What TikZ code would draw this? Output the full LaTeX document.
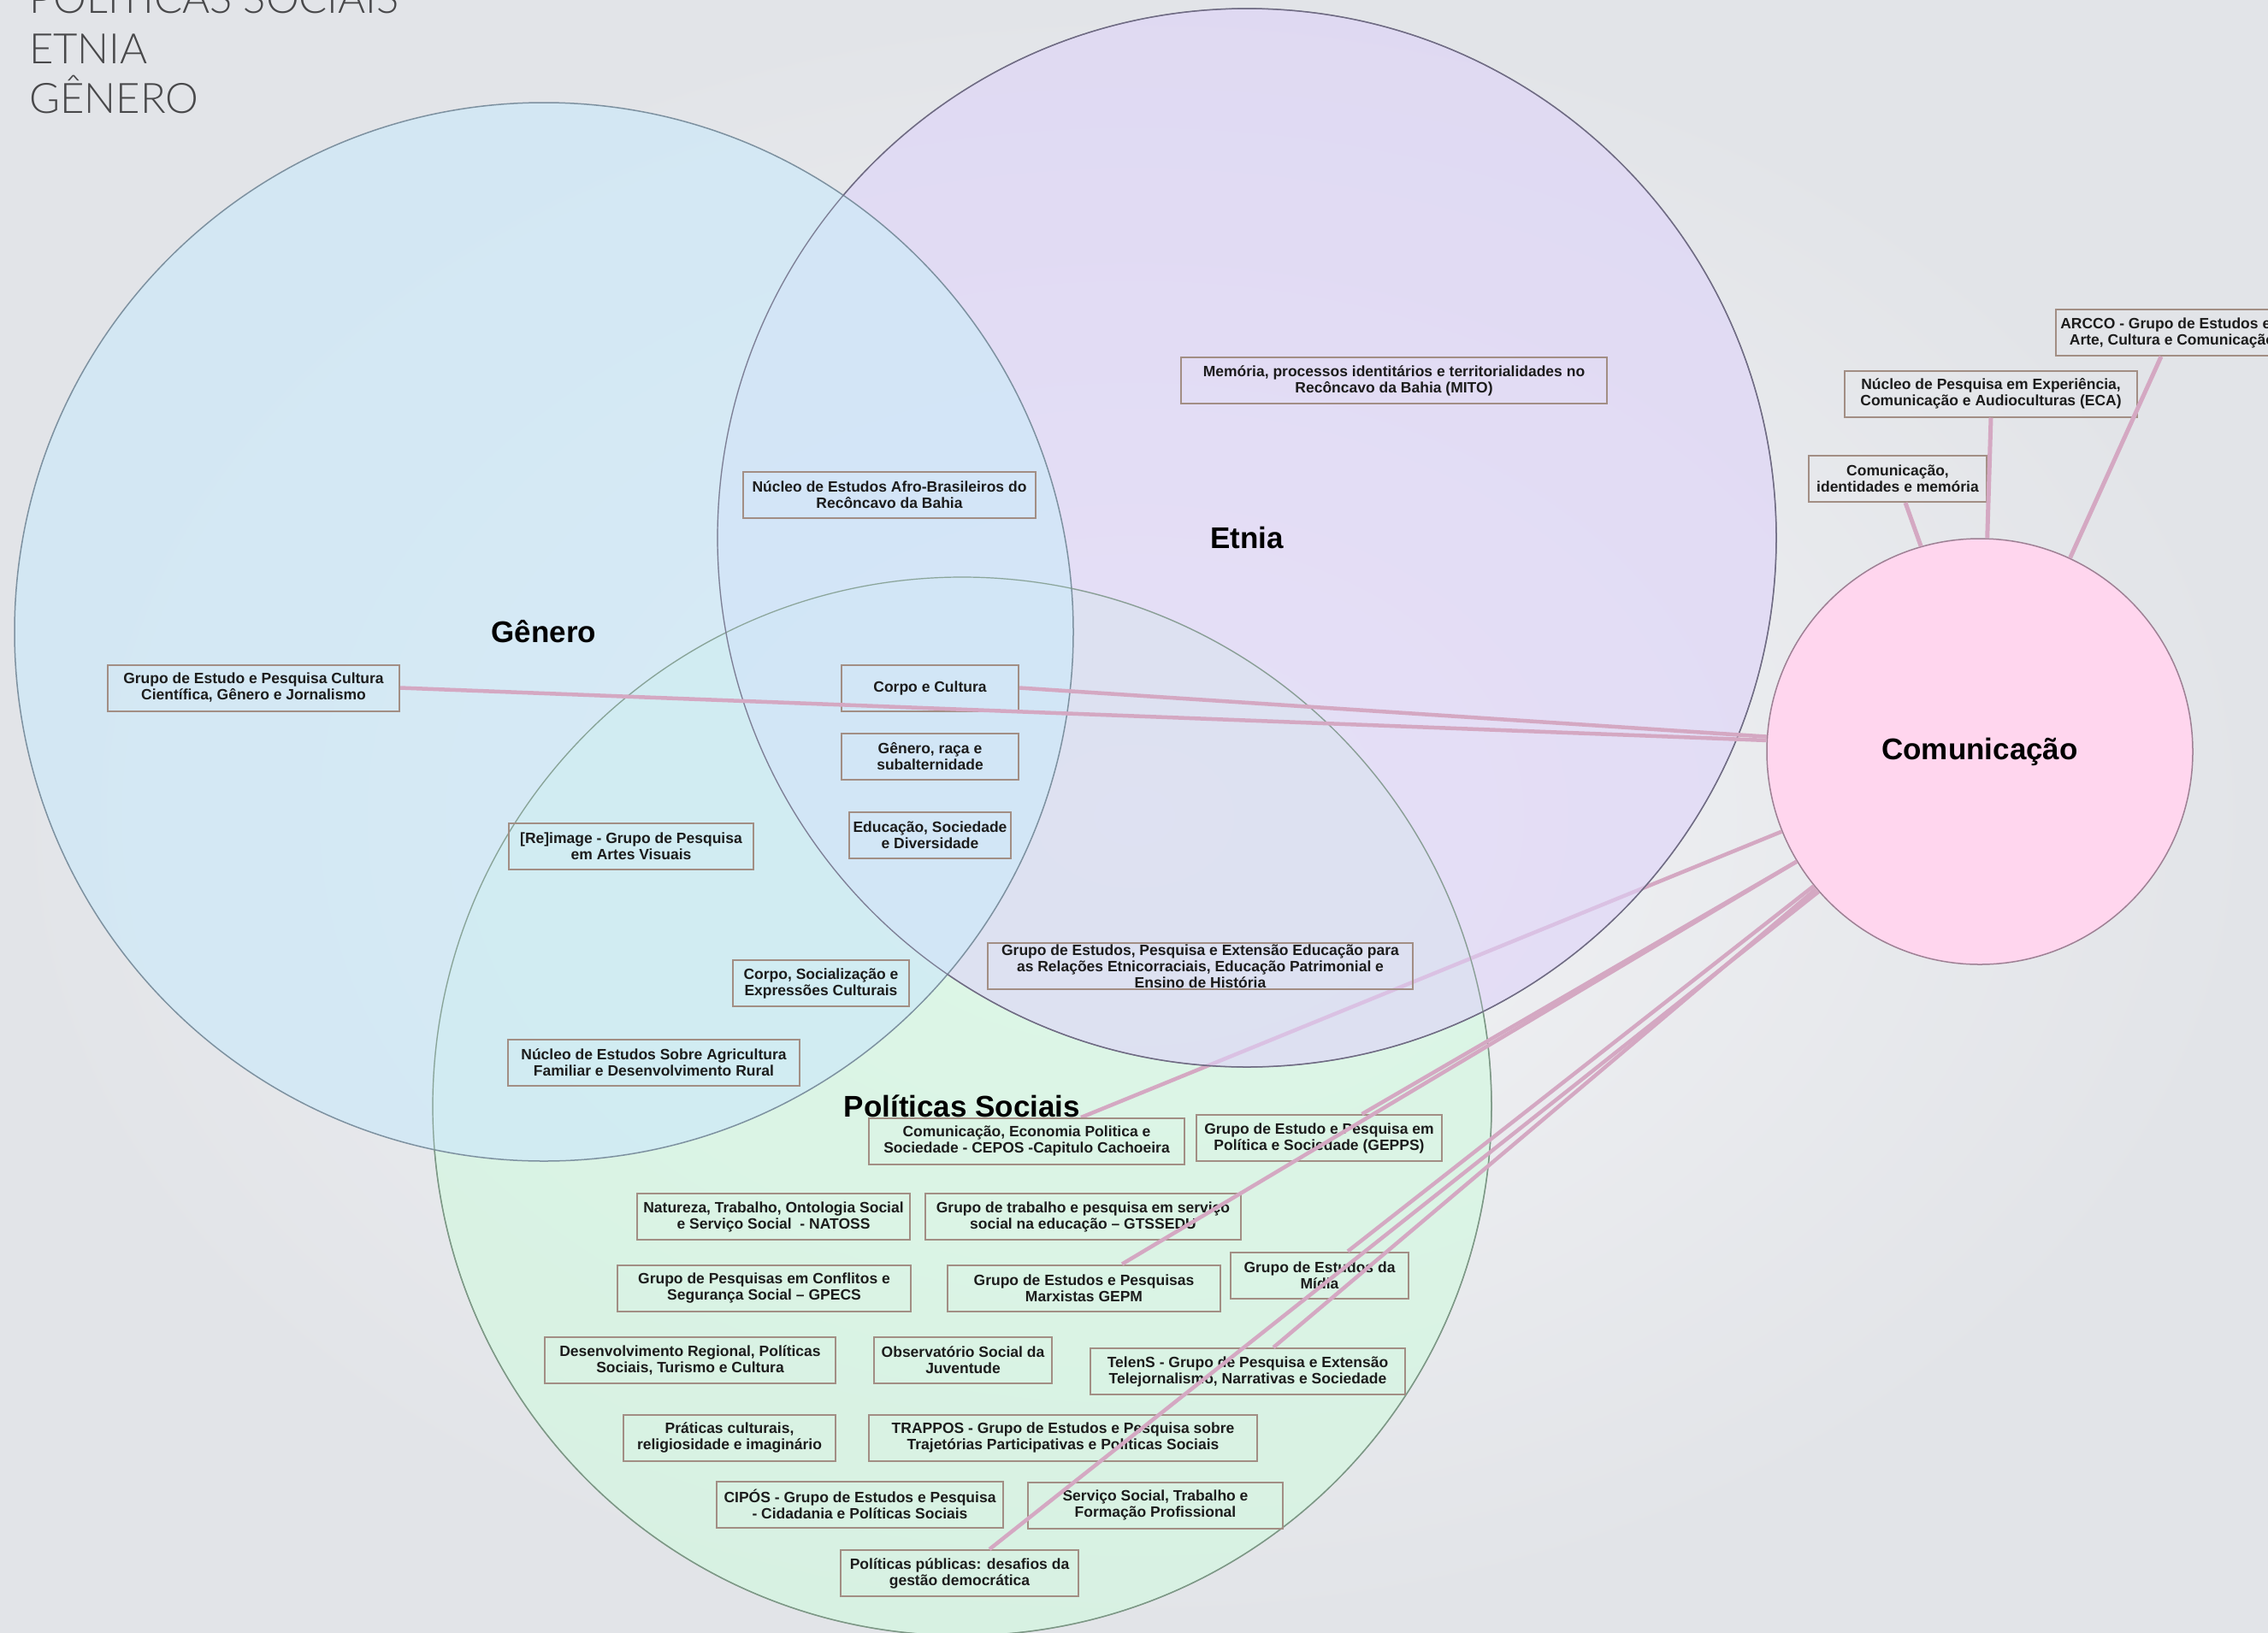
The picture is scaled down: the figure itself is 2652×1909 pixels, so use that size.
\documentclass[tikz,border=0pt]{standalone}
\usepackage{fontspec}
\setmainfont{Liberation Sans}
\newfontfamily\titlefont{Lato}[UprightFont=* Light]

\definecolor{bgin}{RGB}{243,244,246}
\definecolor{bgout}{RGB}{226,228,232}
\definecolor{titlegray}{RGB}{72,72,74}
\definecolor{genfill}{RGB}{206,233,248}
\definecolor{genline}{RGB}{125,145,160}
\definecolor{etnfill}{RGB}{222,211,249}
\definecolor{etnline}{RGB}{112,108,132}
\definecolor{polfill}{RGB}{209,250,223}
\definecolor{polline}{RGB}{125,152,134}
\definecolor{comfill}{RGB}{255,214,238}
\definecolor{comline}{RGB}{158,128,148}
\definecolor{boxline}{RGB}{162,142,132}
\definecolor{boxtext}{RGB}{28,28,28}
\definecolor{linkpink}{RGB}{212,168,194}

\begin{document}
\begin{tikzpicture}[x=1pt, y=-1pt,
    grp/.style={draw=boxline, line width=2pt, align=center, inner sep=0pt,
        minimum height=54pt, text=boxtext, font=\bfseries\fontsize{17.5}{19}\selectfont},
    area/.style={circle, minimum size=1238pt, inner sep=0pt, line width=1.5pt,
        fill opacity=0.6, draw opacity=1, text opacity=1,
        font=\bfseries\fontsize{35}{40}\selectfont},
    rim/.style={line width=1.2pt, draw opacity=0.8},
    link/.style={draw=linkpink, line width=4.5pt},
    heading/.style={anchor=base west, inner sep=0pt, text=titlegray,
        font=\titlefont\fontsize{49}{57}\selectfont}]
    \shade[inner color=bgin, outer color=bgout] (0,0) rectangle (2652,1909);
    \useasboundingbox (0,0) rectangle (2652,1909);

    % title
    \node[heading] (t1) at (34,15) {POLÍTICAS SOCIAIS};
    \node[heading] (t2) at (34,74) {ETNIA};
    \node[heading] (t3) at (34,132) {GÊNERO};

    % areas
    \node[area, draw=polline, fill=polfill] (politicas) at (1125,1294) {Políticas Sociais};
    \node[circle, minimum size=498pt, inner sep=0pt, line width=1.5pt, draw=comline, fill=comfill,
        font=\bfseries\fontsize{35}{40}\selectfont] (comm) at (2315,879) {Comunicação};
    \coordinate (ceposTop) at (1264,1307);
    \draw[link] (ceposTop) -- (comm.202.6);
    \node[area, draw=etnline, fill=etnfill] (etnia) at (1458,629) {Etnia};
    \node[area, draw=genline, fill=genfill, fill opacity=0.72] (genero) at (636,739) {Gênero};
    \draw[rim, polline] (politicas.center) circle[radius=619pt];
    \draw[rim, etnline] (etnia.center) circle[radius=619pt];

    % groups
    \node[grp, minimum width=341pt] (cultsci) at (296.5,804.5) {Grupo de Estudo e Pesquisa Cultura\\Científica, Gênero e Jornalismo};
    \node[grp, minimum width=342pt] (afro) at (1040,579) {Núcleo de Estudos Afro-Brasileiros do\\Recôncavo da Bahia};
    \node[grp, minimum width=498pt] (mito) at (1630,445) {Memória, processos identitários e territorialidades no\\Recôncavo da Bahia (MITO)};
    \node[grp, minimum width=207pt] (corpocult) at (1087.5,804.5) {Corpo e Cultura};
    \node[grp, minimum width=207pt] (genraca) at (1087.5,884.5) {Gênero, raça e\\subalternidade};
    \node[grp, minimum width=189pt] (educsoc) at (1087.5,976.5) {Educação, Sociedade\\e Diversidade};
    \node[grp, minimum width=286pt] (reimage) at (738,990) {[Re]image - Grupo de Pesquisa\\em Artes Visuais};
    \node[grp, minimum width=206pt] (corposoc) at (960,1150) {Corpo, Socialização e\\Expressões Culturais};
    \node[grp, minimum width=497pt] (erer) at (1403.5,1130) {Grupo de Estudos, Pesquisa e Extensão Educação para\\as Relações Etnicorraciais, Educação Patrimonial e\\Ensino de História};
    \node[grp, minimum width=341pt] (agric) at (764.5,1243) {Núcleo de Estudos Sobre Agricultura\\Familiar e Desenvolvimento Rural};
    \node[grp, minimum width=369pt] (cepos) at (1200.5,1334.5) {Comunicação, Economia Politica e\\Sociedade - CEPOS -Capitulo Cachoeira};
    \node[grp, minimum width=287pt] (gepps) at (1542.5,1331) {Grupo de Estudo e Pesquisa em\\Política e Sociedade (GEPPS)};
    \node[grp, minimum width=319pt] (natoss) at (904.5,1423) {Natureza, Trabalho, Ontologia Social\\e Serviço Social \ - NATOSS};
    \node[grp, minimum width=369pt] (gtssedu) at (1266.5,1423) {Grupo de trabalho e pesquisa em serviço\\social na educação – GTSSEDU};
    \node[grp, minimum width=343pt] (gpecs) at (893.5,1506.5) {Grupo de Pesquisas em Conflitos e\\Segurança Social – GPECS};
    \node[grp, minimum width=319pt] (gepm) at (1267.5,1506.5) {Grupo de Estudos e Pesquisas\\Marxistas GEPM};
    \node[grp, minimum width=208pt] (midia) at (1543,1491.5) {Grupo de Estudos da\\Mídia};
    \node[grp, minimum width=340pt] (desenv) at (807,1590.5) {Desenvolvimento Regional, Políticas\\Sociais, Turismo e Cultura};
    \node[grp, minimum width=208pt] (juvent) at (1126,1590.5) {Observatório Social da\\Juventude};
    \node[grp, minimum width=368pt] (telens) at (1459,1604) {TelenS - Grupo de Pesquisa e Extensão\\Telejornalismo, Narrativas e Sociedade};
    \node[grp, minimum width=248pt] (praticas) at (853,1681.5) {Práticas culturais,\\religiosidade e imaginário};
    \node[grp, minimum width=454pt] (trappos) at (1243,1681.5) {TRAPPOS - Grupo de Estudos e Pesquisa sobre\\Trajetórias Participativas e Políticas Sociais};
    \node[grp, minimum width=335pt] (cipos) at (1005.5,1759.5) {CIPÓS - Grupo de Estudos e Pesquisa\\- Cidadania e Políticas Sociais};
    \node[grp, minimum width=298pt] (servico) at (1351,1760.5) {Serviço Social, Trabalho e\\Formação Profissional};
    \node[grp, minimum width=278pt] (polpub) at (1122,1840) {Políticas públicas: desafios da\\gestão democrática};
    \node[grp, minimum width=208pt] (comident) at (2219,560) {Comunicação,\\identidades e memória};
    \node[grp, minimum width=342pt] (eca) at (2328,460.5) {Núcleo de Pesquisa em Experiência,\\Comunicação e Audioculturas (ECA)};
    \node[grp, minimum width=272pt] (arcco) at (2540,389) {ARCCO - Grupo de Estudos em\\Arte, Cultura e Comunicação};

    % links to Comunicação
    \draw[link] (cultsci.east) -- (comm.177.9);
    \draw[link] (corpocult.east) -- (comm.176.3);
    \draw[link] ([xshift=50pt]gepps.north) -- (comm.211.2);
    \draw[link] ([xshift=44.5pt]gepm.north) -- (comm.211.6);
    \draw[link] ([xshift=33pt]midia.north) -- (comm.219);
    \draw[link] ([xshift=30pt]telens.north) -- (comm.220);
    \draw[link] ([xshift=35pt]polpub.north) -- (comm.221);
    \draw[link, line width=5pt] ([xshift=9pt]comident.south) -- (comm.106.7);
    \draw[link, line width=5pt] (eca.south) -- (comm.88.1);
    \draw[link, line width=5pt] ([xshift=-13pt]arcco.south) -- (comm.65.3);
\end{tikzpicture}
\end{document}
